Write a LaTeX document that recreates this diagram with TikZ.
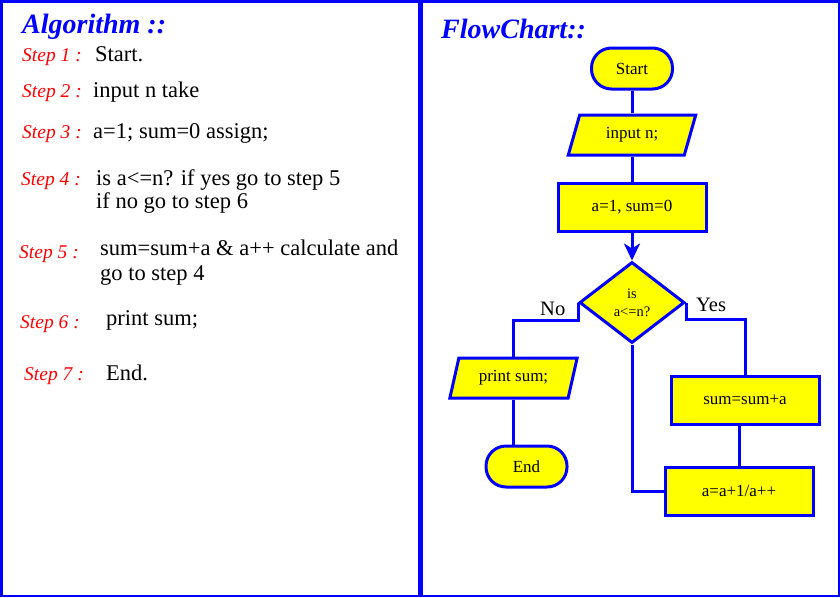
\documentclass[tikz,border=0pt]{standalone}
\usepackage{fontspec}
\setmainfont{Liberation Serif}
\usetikzlibrary{shapes.geometric,arrows.meta}
\definecolor{edgeblue}{RGB}{0,0,255}
\definecolor{boxyellow}{RGB}{255,255,0}
\definecolor{steptext}{RGB}{255,0,0}
\begin{document}
\begin{tikzpicture}[x=1pt,y=-1pt,
  panel/.style={draw=edgeblue,line width=2.5pt},
  heading/.style={anchor=base west,inner sep=0pt,text=edgeblue,font=\fontsize{28}{32}\selectfont\bfseries\itshape},
  steplabel/.style={anchor=base west,inner sep=0pt,text=steptext,font=\fontsize{19.5}{23}\selectfont\itshape},
  steptxt/.style={anchor=base west,inner sep=0pt,font=\fontsize{22.5}{26}\selectfont},
  fc/.style={draw=edgeblue,fill=boxyellow,line width=3pt,inner sep=0pt,font=\fontsize{17}{20}\selectfont},
  terminal/.style={fc,rectangle,rounded corners=20pt,minimum width=81pt,minimum height=41pt},
  process/.style={fc,rectangle,minimum width=148pt,minimum height=48pt},
  io/.style={fc,trapezium,trapezium left angle=69,trapezium right angle=111,trapezium stretches=true,minimum width=128pt,minimum height=40pt},
  decision/.style={fc,diamond,minimum width=105pt,minimum height=81pt,align=center,font=\fontsize{14.5}{18}\selectfont},
  conn/.style={draw=edgeblue,line width=3pt},
  branch/.style={inner sep=0pt,anchor=base west,font=\fontsize{20.5}{24}\selectfont}]

% page background and the two framed panels
\fill[white] (0,0) rectangle (840,597);
\draw[panel] (1.25,1.25) rectangle (418.75,595.75);
\draw[panel] (421.25,1.25) rectangle (838.75,595.75);

% ---- algorithm steps ----
\node[heading] (alg) at (22,33) {Algorithm ::};
\node[steplabel] (l1) at (22,61) {Step 1 :};
\node[steptxt] (t1) at (95,61) {Start.};
\node[steplabel] (l2) at (22,97) {Step 2 :};
\node[steptxt] (t2) at (93,97) {input n take};
\node[steplabel] (l3) at (22,138) {Step 3 :};
\node[steptxt] (t3) at (93,138) {a=1; sum=0 assign;};
\node[steplabel] (l4) at (21,185) {Step 4 :};
\node[steptxt] (t4a) at (96,185) {is a<=n? if yes go to step 5};
\node[steptxt] (t4b) at (96,208) {if no go to step 6};
\node[steplabel] (l5) at (19,258) {Step 5 :};
\node[steptxt] (t5a) at (100,255) {sum=sum+a \& a++ calculate and};
\node[steptxt] (t5b) at (100,280) {go to step 4};
\node[steplabel] (l6) at (20,328) {Step 6 :};
\node[steptxt] (t6) at (106,325) {print sum;};
\node[steplabel] (l7) at (24,380) {Step 7 :};
\node[steptxt] (t7) at (106,380) {End.};

% ---- flowchart ----
\node[heading] (fct) at (441,38) {FlowChart::};
\node[terminal] (start) at (632,68.5) {Start};
\node[io] (input) at (632,135) {input n;};
\node[process] (init) at (632,207) {a=1, sum=0};
\node[decision] (dec) at (632,302.5) {is\\a<=n?};
\node[io] (print) at (513.5,378) {print sum;};
\node[terminal] (end) at (526.5,466.5) {End};
\node[process] (sum) at (745,400) {sum=sum+a};
\node[process] (inc) at (739,491) {a=a+1/a++};

\draw[conn] (start.south) -- (start.south |- input.north);
\draw[conn] (input.south -| init.north) -- (init.north);
\draw[conn,-{Stealth[length=17pt,width=16pt,inset=5pt]}] (init.south) -- (dec.north);
\draw[conn] (dec.west) -- ++(0,17.5) -| (print.north);
\draw[conn] (dec.east) -- ++(0,16.5) -| (sum.north);
\draw[conn] (inc.north |- sum.south) -- (inc.north);
\draw[conn] (print.south -| 513,0) -- (513,0 |- end.north);
\draw[conn] (inc.west) -| (dec.south);

\node[branch] (no) at (540,315) {No};
\node[branch] (yes) at (696,311) {Yes};
\end{tikzpicture}
\end{document}
